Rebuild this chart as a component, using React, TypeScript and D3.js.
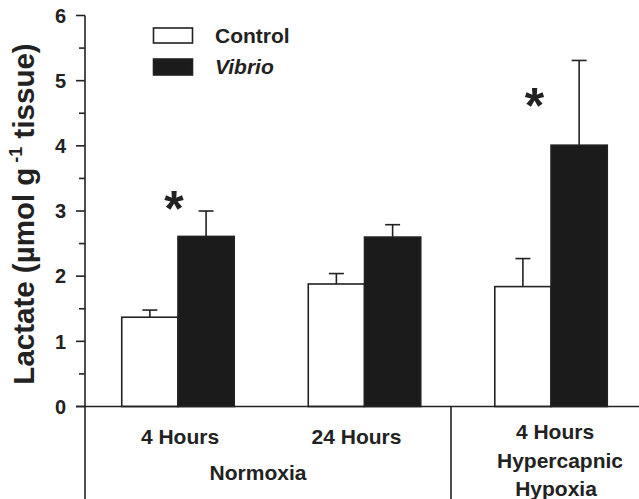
import React from "react";
import * as d3 from "d3";

const groups = ["g1", "g2", "g3"];
const timeLabels = ["4 Hours", "24 Hours", "4 Hours"];
const series = ["Control", "Vibrio"];
const controlMeans = [1.37, 1.88, 1.84];
const controlErr = [0.11, 0.16, 0.43];
const vibrioMeans = [2.61, 2.6, 4.01];
const vibrioErr = [0.39, 0.19, 1.3];
const yTicks = [0, 1, 2, 3, 4, 5, 6];
const yMinorTicks = [0.5, 1.5, 2.5, 3.5, 4.5, 5.5];
const asteriskGroups = ["g1", "g3"];
const asteriskValues = [3.24, 4.82];
const asteriskFrac = [0.465, 0.353];

const W = 639;
const H = 499;
const axisX = 85;
const FONT = "Liberation Sans, Arial, Helvetica, sans-serif";
const INK = "#222";

export default function App() {
  const y = d3.scaleLinear().domain([0, 6]).range([406.5, 15.5]);
  const x = d3
    .scaleBand<string>()
    .domain(groups)
    .range([axisX, 644])
    .paddingInner(0.397)
    .paddingOuter(0.197);
  const sub = d3.scaleBand<string>().domain(series).range([0, x.bandwidth()]);
  const bw = sub.bandwidth();
  const capHalf = 7.5;
  const sepX = 451;

  const bars = groups.flatMap((g, i) => [
    { g, s: "Control", v: controlMeans[i], e: controlErr[i] },
    { g, s: "Vibrio", v: vibrioMeans[i], e: vibrioErr[i] },
  ]);

  return (
    <svg
      width={W}
      height={H}
      style={{ position: "absolute", left: 0, top: 0, background: "#fff" }}
      fontFamily={FONT}
    >
      {/* error bars */}
      {bars.map((b, k) => {
        const cx = (x(b.g) as number) + (sub(b.s) as number) + bw / 2;
        return (
          <g key={"e" + k} stroke={INK} strokeWidth={1.6}>
            <line x1={cx} x2={cx} y1={y(b.v)} y2={y(b.v + b.e)} />
            <line x1={cx - capHalf} x2={cx + capHalf} y1={y(b.v + b.e)} y2={y(b.v + b.e)} />
          </g>
        );
      })}
      {/* bars */}
      {bars.map((b, k) => (
        <rect
          key={"b" + k}
          x={(x(b.g) as number) + (sub(b.s) as number)}
          y={y(b.v)}
          width={bw}
          height={y(0) - y(b.v)}
          fill={b.s === "Control" ? "#fff" : "#1b1b1b"}
          stroke={INK}
          strokeWidth={1.6}
        />
      ))}
      {/* baseline */}
      <line x1={axisX - 9} x2={W} y1={y(0)} y2={y(0)} stroke={INK} strokeWidth={1.6} />
      {/* y axis */}
      <line x1={axisX} x2={axisX} y1={y(6)} y2={H} stroke={INK} strokeWidth={1.6} />
      {yTicks.map((t) => (
        <g key={"t" + t}>
          <line x1={axisX - 9} x2={axisX} y1={y(t)} y2={y(t)} stroke={INK} strokeWidth={1.6} />
          <text
            x={axisX - 19}
            y={y(t)}
            dy="0.36em"
            textAnchor="end"
            fontSize={20}
            fontWeight="bold"
            fill={INK}
          >
            {t}
          </text>
        </g>
      ))}
      {yMinorTicks.map((t) => (
        <line key={"m" + t} x1={axisX - 6} x2={axisX} y1={y(t)} y2={y(t)} stroke={INK} strokeWidth={1.6} />
      ))}
      {/* y title */}
      <text
        transform={`translate(34,214) rotate(-90)`}
        textAnchor="middle"
        fontSize={29.5}
        fontWeight="bold"
        fill={INK}
      >
        Lactate (µmol g
        <tspan fontSize={18} dy={-12}> -1</tspan>
        <tspan dy={12}> tissue)</tspan>
      </text>
      {/* separator */}
      <line x1={sepX} x2={sepX} y1={y(0)} y2={H} stroke={INK} strokeWidth={1.6} />
      {/* category labels */}
      {groups.map((g, i) => (
        <text
          key={"c" + g}
          x={(x(g) as number) + x.bandwidth() / 2 + (i === 1 ? -8 : i === 2 ? 4 : 2)}
          y={i === 2 ? 439 : 444}
          textAnchor="middle"
          fontSize={21}
          fontWeight="bold"
          fill={INK}
        >
          {timeLabels[i]}
        </text>
      ))}
      <text x={258} y={480} textAnchor="middle" fontSize={21} fontWeight="bold" fill={INK}>
        Normoxia
      </text>
      <text x={560} y={468} textAnchor="middle" fontSize={21} fontWeight="bold" fill={INK}>
        Hypercapnic
      </text>
      <text x={556} y={496} textAnchor="middle" fontSize={21} fontWeight="bold" fill={INK}>
        Hypoxia
      </text>
      {/* asterisks */}
      {asteriskGroups.map((g, i) => (
        <text
          key={"a" + g}
          x={(x(g) as number) + x.bandwidth() * asteriskFrac[i]}
          y={y(asteriskValues[i])}
          dy="0.62em"
          textAnchor="middle"
          fontSize={50}
          fontWeight="bold"
          fill={INK}
        >
          *
        </text>
      ))}
      {/* legend */}
      <rect x={153.5} y={28} width={39} height={15} fill="#fff" stroke={INK} strokeWidth={1.6} />
      <rect x={153.5} y={59} width={39} height={16} fill="#1b1b1b" stroke={INK} strokeWidth={1.6} />
      <text x={215} y={43} fontSize={21} fontWeight="bold" fill={INK}>
        Control
      </text>
      <text x={215} y={74} fontSize={21} fontWeight="bold" fontStyle="italic" fill={INK}>
        Vibrio
      </text>
    </svg>
  );
}
